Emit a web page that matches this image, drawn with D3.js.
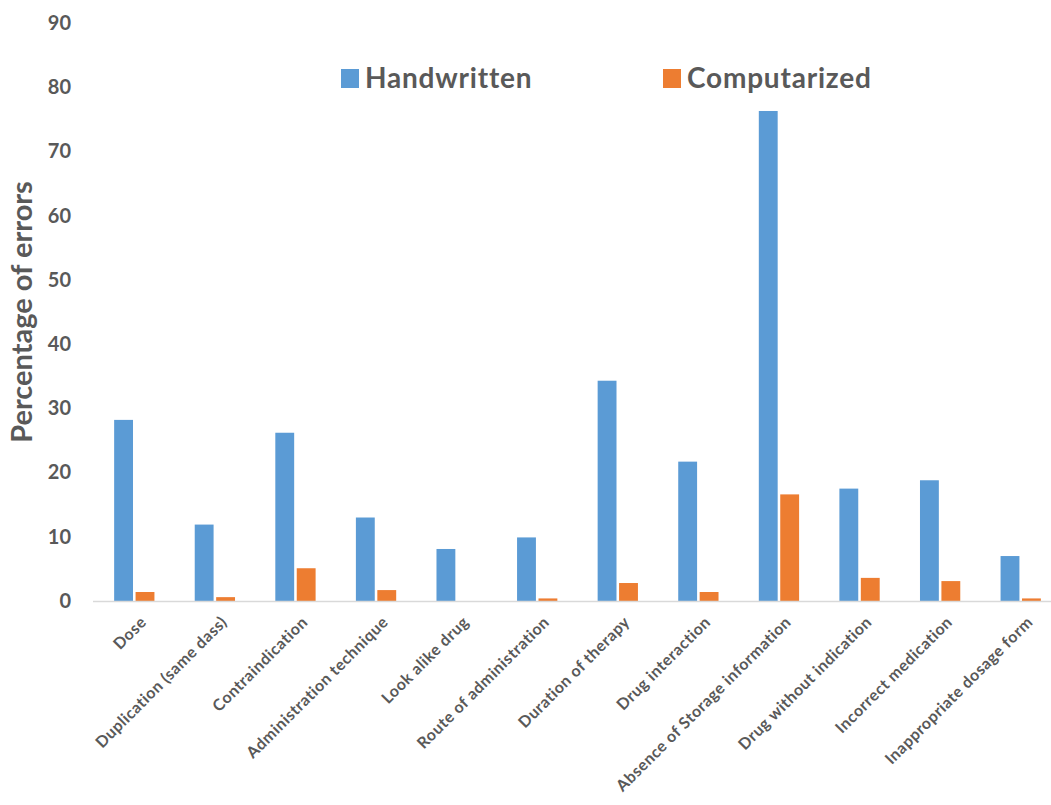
<!DOCTYPE html>
<html>
<head>
<meta charset="utf-8">
<script src="https://cdn.jsdelivr.net/npm/d3@7/dist/d3.min.js"></script>
<style>
  body { margin: 0; background: #fff; }
  text { font-family: Lato, "Open Sans", sans-serif; font-weight: bold; fill: #595959; }
</style>
</head>
<body>
<div id="chart"></div>
<script>
var categories = ['Dose', 'Duplication (same dass)', 'Contraindication', 'Administration technique',
  'Look alike drug', 'Route of administration', 'Duration of therapy', 'Drug interaction',
  'Absence of Storage information', 'Drug without indication', 'Incorrect medication',
  'Inappropriate dosage form'];
var seriesNames = ['Handwritten', 'Computarized'];
var handwritten = [28.2, 11.9, 26.2, 13.0, 8.1, 9.9, 34.3, 21.7, 76.3, 17.5, 18.8, 7.0];
var computarized = [1.4, 0.6, 5.1, 1.7, 0, 0.4, 2.8, 1.4, 16.6, 3.6, 3.1, 0.4];
var yTicks = [0, 10, 20, 30, 40, 50, 60, 70, 80, 90];

var width = 1051, height = 805;
var colors = {Handwritten: '#5B9BD5', Computarized: '#ED7D31'};

var data = categories.map(function(c, i) {
  return {cat: c, Handwritten: handwritten[i], Computarized: computarized[i]};
});

var svg = d3.select('#chart').append('svg')
  .attr('width', width).attr('height', height);

var x = d3.scaleBand().domain(categories).range([94, 1061]).paddingInner(0.5).paddingOuter(0.25);
var xs = d3.scaleBand().domain(seriesNames).range([0, x.bandwidth()]).paddingInner(0.12);
var y = d3.scaleLinear().domain([0, 90]).range([601, 23]);

// y tick labels (no axis line in the original)
var yAxis = svg.append('g')
  .attr('transform', 'translate(94,0)')
  .call(d3.axisLeft(y).tickValues(yTicks).tickSize(0).tickPadding(23));
yAxis.select('.domain').remove();
yAxis.selectAll('text')
  .style('font-size', '20px')
  .attr('fill', '#595959')
  .attr('font-family', 'Lato, sans-serif');

// bars
var groups = svg.append('g').selectAll('g')
  .data(data).enter().append('g')
  .attr('transform', function(d) { return 'translate(' + x(d.cat) + ',0)'; });

groups.selectAll('rect')
  .data(function(d) { return seriesNames.map(function(s) { return {key: s, value: d[s]}; }); })
  .enter().append('rect')
  .attr('x', function(d) { return xs(d.key); })
  .attr('width', xs.bandwidth())
  .attr('y', function(d) { return y(d.value); })
  .attr('height', function(d) { return y(0) - y(d.value); })
  .attr('fill', function(d) { return colors[d.key]; });

// baseline
svg.append('line')
  .attr('x1', 93).attr('x2', width)
  .attr('y1', y(0) + 0.5).attr('y2', y(0) + 0.5)
  .attr('stroke', '#D9D9D9').attr('stroke-width', 1.5);

// category labels
svg.append('g').selectAll('text')
  .data(categories).enter().append('text')
  .attr('transform', function(d) {
    return 'translate(' + (x(d) + x.bandwidth() / 2 + 5) + ',615) rotate(-45)';
  })
  .attr('text-anchor', 'end')
  .attr('dy', '0.72em')
  .style('font-size', '16px')
  .style('letter-spacing', '0.5px')
  .text(function(d) { return d; });

// y title
svg.append('text')
  .attr('transform', 'translate(32,312) rotate(-90)')
  .attr('text-anchor', 'middle')
  .style('font-size', '29px')
  .text('Percentage of errors');

// legend
var legendX = [341, 663];
var legend = svg.append('g').selectAll('g')
  .data(seriesNames).enter().append('g')
  .attr('transform', function(d, i) { return 'translate(' + legendX[i] + ',69)'; });
legend.append('rect')
  .attr('width', 18).attr('height', 19)
  .attr('fill', function(d) { return colors[d]; });
legend.append('text')
  .attr('x', 24).attr('y', 19)
  .style('font-size', '28px')
  .style('letter-spacing', '0.8px')
  .text(function(d) { return d; });
</script>
</body>
</html>
